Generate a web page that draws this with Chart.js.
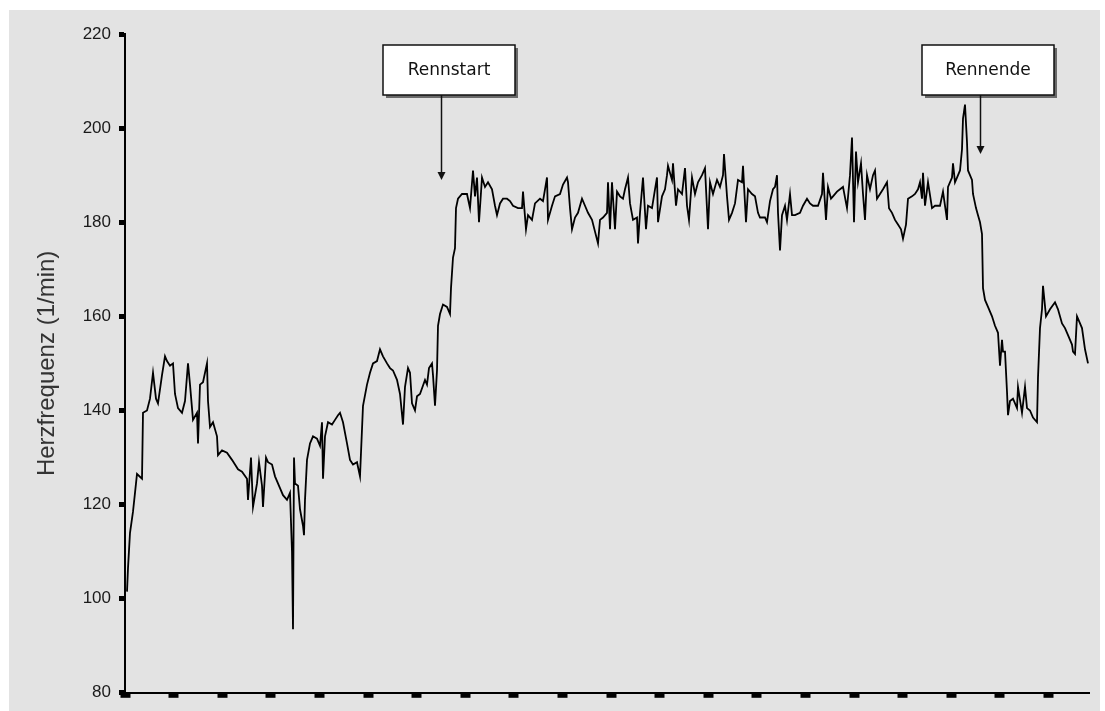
<!DOCTYPE html>
<html>
<head>
<meta charset="utf-8">
<title>Herzfrequenz</title>
<script src="https://cdn.jsdelivr.net/npm/chart.js@4.4.1/dist/chart.umd.min.js"></script>
<style>
  html, body { margin: 0; padding: 0; background: #fff; }
  #wrap { width: 1105px; height: 711px; position: relative; }
</style>
</head>
<body>
<div id="wrap"><canvas id="hrChart"></canvas></div>
<script>
// heart rate recording: x = sample position (no units shown), y = beats per minute
var sampleTime = [
  2,3,5,8,10,12,17,18,22,25,
  28,31,33,37,40,42,45,48,50,53,
  57,60,63,65,68,72,73,75,78,82,
  83,85,88,92,93,97,102,107,110,113,
  117,122,123,126,128,132,134,137,138,141,
  143,147,150,155,158,162,165,167,168,169,
  170,173,175,178,179,180,182,185,188,192,
  195,197,198,200,203,207,210,213,215,218,
  222,225,228,232,235,238,242,245,248,252,
  255,258,262,265,268,272,275,278,280,283,
  285,287,290,292,295,300,302,304,307,308,
  310,312,313,315,318,322,325,326,328,330,
  331,333,337,342,343,345,348,350,352,354,
  357,360,363,367,370,372,375,378,382,385,
  388,393,397,398,401,403,407,410,415,418,
  420,422,423,427,430,435,438,442,443,445,
  447,450,453,457,460,463,467,470,473,475,
  478,482,483,485,487,490,492,495,498,500,
  503,505,508,512,513,515,518,521,523,527,
  530,532,533,537,540,542,543,547,548,551,
  553,557,560,562,564,567,570,573,577,580,
  583,585,588,592,595,598,599,602,604,607,
  610,613,617,618,621,623,627,630,633,635,
  640,642,645,648,650,652,653,655,657,660,
  662,665,667,670,675,678,682,685,688,693,
  697,698,701,703,706,708,712,715,718,722,
  725,727,729,731,733,736,738,740,742,745,
  748,750,752,755,758,762,764,767,770,773,
  776,778,781,783,787,790,793,795,797,798,
  800,803,807,810,815,818,822,823,827,828,
  830,832,835,837,838,840,842,843,847,848,
  851,853,855,857,858,860,863,867,870,873,
  875,877,878,880,882,883,885,888,892,893,
  897,900,902,905,908,912,913,915,917,918,
  921,925,930,933,937,940,943,947,948,950,
  952,953,957,960,963
];
var heartRate = [
  101.5,106.5,114,118.5,122.5,126.5,125.5,139.5,140,142.5,
  148,142.5,141.5,147.5,151.5,150.5,149.5,150,143.5,140.5,
  139.5,142,150,145.5,138,139.5,133,145.5,146,150,
  142,136.5,137.5,134.5,130.5,131.5,131,129.5,128.5,127.5,
  127,125.5,121,130,119.5,124.5,129,124,119.5,130,
  129,128.5,126,123.5,122,121,122.5,110,93.5,130,
  124.5,124,119,115.5,113.5,121,129.5,133,134.5,134,
  132.5,137.5,125.5,134.5,137.5,137,138,139,139.5,137.5,
  133,129.5,128.5,129,126,141,145.5,148,150,150.5,
  153,151.5,150,149,148.5,146.5,143.5,137,145,149,
  148,141.5,140,143,143.5,146.5,145.5,149,150,147.5,
  141,148.5,158,160.5,162.5,162,160.5,166,172.5,174.5,
  183,185,186,186,185,183,191,185.5,189.5,180,
  189.5,187.5,188.5,187,183.5,181.5,184,185,185,184.5,
  183.5,183,183,186.5,178.5,181.5,180.5,184,185,184.5,
  187,189.5,180.5,183.5,185.5,186,188,189.5,188.5,183,
  178.5,181,182,185,183.5,182,180.5,178,175.5,180.5,
  181,182,188.5,178.5,188.5,178.5,186.5,185.5,185,187,
  189.5,184,180.5,181,175.5,182,189.5,178.5,183.5,183,
  187,189.5,180,185.5,187,190,192,189,192.5,183.5,
  187,186,191.5,183.5,180.5,189.5,186,188.5,190,191.5,
  178.5,188.5,186,189,187.5,190,194.5,185.5,180.5,182,
  184,189,188.5,192,180,187,186,185.5,182,181,
  181,180,184.5,187,187.5,190,182,174,181.5,183.5,
  180.5,186,181.5,181.5,182,183.5,185,184,183.5,183.5,
  186,190.5,180.5,187.5,185,185.5,186.5,187,187.5,183,
  190,198,180,195,188.5,192.5,186,180.5,190,187,
  190,191,185,186,187,188.5,183,182,180.5,179.5,
  178.5,176.5,179.5,185,185.5,186,187,188.5,185,190.5,
  183.5,188.5,183,183.5,183.5,186.5,180.5,187.5,189.5,192.5,
  188.5,189.5,191,195.5,202,205,197,191,189,186,
  183,181.5,180,177.5,166,163.5,162,160,158,156.5,
  149.5,155,152.5,152.5,144,139,142,142.5,140.5,145,
  139.5,145,140.5,140,138.5,137.5,147,157.5,161.5,166.5,
  160,161.5,163,161.5,158.5,157.5,156,154,152.5,152,
  160,159.5,157.5,153,150
];
var yTicks = [80, 100, 120, 140, 160, 180, 200, 220];
var xMax = 964;
var xTickStep = 48.6;   // unlabeled x ticks

// race markers
var markerText = ['Rennstart', 'Rennende'];
var markerTime = [316, 855];
var markerRate = [189, 194.5];

var panelBg = {
  id: 'panelBg',
  beforeDraw: function(chart) {
    var c = chart.ctx;
    c.save();
    c.fillStyle = '#e3e3e3';
    c.fillRect(9, 10, chart.width - 14, chart.height - 10);
    c.restore();
  }
};

var raceMarkers = {
  id: 'raceMarkers',
  afterDraw: function(chart) {
    var c = chart.ctx, xs = chart.scales.x, ys = chart.scales.y;
    var bw = 132, bh = 50;
    c.save();
    for (var i = 0; i < markerText.length; i++) {
      var ax = Math.round(xs.getPixelForValue(markerTime[i])) + 0.5;
      var tip = ys.getPixelForValue(markerRate[i]);
      var bx = Math.round(ax - 59), by = chart.chartArea.top + 11;
      c.fillStyle = '#6a6a6a';
      c.fillRect(bx + 3, by + 3, bw, bh);
      c.fillStyle = '#fff';
      c.fillRect(bx, by, bw, bh);
      c.strokeStyle = '#111';
      c.lineWidth = 1.5;
      c.strokeRect(bx, by, bw, bh);
      c.fillStyle = '#111';
      c.font = '17px "DejaVu Sans"';
      c.textAlign = 'center';
      c.textBaseline = 'middle';
      c.fillText(markerText[i], bx + bw / 2, by + bh / 2 + 1);
      // arrow down to the trace
      c.beginPath();
      c.moveTo(ax, by + bh);
      c.lineTo(ax, tip - 6);
      c.stroke();
      c.beginPath();
      c.moveTo(ax - 4, tip - 8);
      c.lineTo(ax + 4, tip - 8);
      c.lineTo(ax, tip);
      c.closePath();
      c.fill();
    }
    c.restore();
  }
};

new Chart(document.getElementById('hrChart'), {
  type: 'line',
  data: {
    datasets: [{
      data: sampleTime.map(function(t, i) { return { x: t, y: heartRate[i] }; }),
      borderColor: '#000',
      borderWidth: 1.8,
      pointRadius: 0,
      tension: 0,
      fill: false
    }]
  },
  options: {
    responsive: true,
    maintainAspectRatio: false,
    animation: false,
    devicePixelRatio: 1,
    layout: { padding: { top: 34, right: 16, left: 0, bottom: 0 } },
    plugins: { legend: { display: false }, tooltip: { enabled: false } },
    scales: {
      x: {
        type: 'linear',
        min: 0,
        max: xMax,
        afterBuildTicks: function(s) {
          var t = [];
          for (var k = 0; k * xTickStep <= xMax; k++) t.push({ value: k * xTickStep });
          s.ticks = t;
        },
        ticks: { display: false },
        grid: { drawOnChartArea: false, color: '#000', tickLength: 5, tickWidth: 10 },
        border: { color: '#000', width: 2 },
        afterFit: function(s) { s.height = 12; }
      },
      y: {
        min: 80,
        max: 220,
        afterBuildTicks: function(s) { s.ticks = yTicks.map(function(v) { return { value: v }; }); },
        ticks: { color: '#1a1a1a', font: { family: '"Liberation Sans", Arial', size: 17 }, padding: 8 },
        grid: { drawOnChartArea: false, color: '#000', tickLength: 6, tickWidth: 5 },
        border: { color: '#000', width: 2 },
        title: {
          display: true,
          text: 'Herzfrequenz (1/min)',
          color: '#333',
          font: { family: '"Liberation Sans", Arial', size: 24 },
          padding: { top: 33, bottom: 0 }
        },
        afterFit: function(s) { s.width = 125; }
      }
    }
  },
  plugins: [panelBg, raceMarkers]
});
</script>
</body>
</html>
